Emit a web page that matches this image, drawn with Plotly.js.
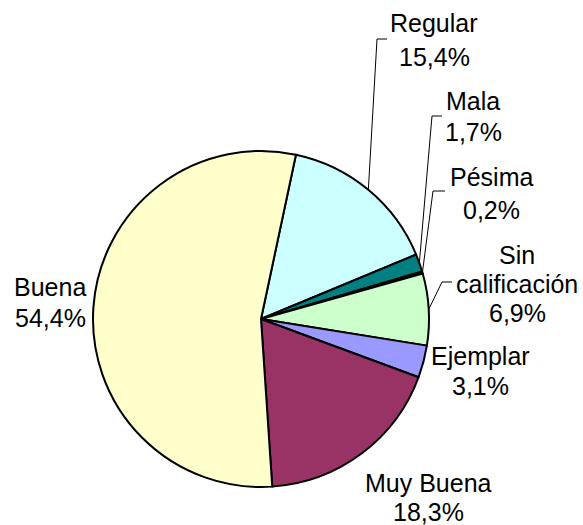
<!DOCTYPE html>
<html>
<head>
<meta charset="utf-8">
<script src="https://cdn.plot.ly/plotly-3.0.1.min.js"></script>
<style>html,body{margin:0;padding:0;background:#fff;}#chart{width:583px;height:525px;}</style>
</head>
<body>
<div id="chart"></div>
<script>
// Data
const categories = ["Regular", "Mala", "Pésima", "Sin calificación", "Ejemplar", "Muy Buena", "Buena"];
const labelLines = [["Regular"], ["Mala"], ["Pésima"], ["Sin", "calificación"], ["Ejemplar"], ["Muy Buena"], ["Buena"]];
const values = [15.4, 1.7, 0.2, 6.9, 3.1, 18.3, 54.4];
const colors = ["#CCFFFF", "#008080", "#660066", "#CCFFCC", "#9999FF", "#993366", "#FFFFCC"];

// Layout / style
const W = 583, H = 525;
const cx = 261, cy = 319, R = 168;
const rotation = 12;
// label x centre, y of each text line (pixels), optional leader-line elbows
const labelPos = [
  {x: 434, ys: [23, 57], elbow: [377, 39], tickEnd: [387, 39]},
  {x: 473, ys: [101, 132], elbow: [432, 116], tickEnd: [442, 116]},
  {x: 491, ys: [177, 210], elbow: [433, 191], tickEnd: [445, 191]},
  {x: 517, ys: [255, 284, 313], elbow: [442, 282], tickEnd: [452, 282]},
  {x: 480, ys: [356, 386]},
  {x: 428, ys: [483, 512]},
  {x: 50, ys: [287, 318]}
];

const px = x => x / W;
const py = y => 1 - y / H;
const fmt = v => v.toFixed(1).replace('.', ',') + '%';

const total = values.reduce((a, b) => a + b, 0);
let cum = 0;
const annotations = [];
const shapes = [];
values.forEach((v, i) => {
  const mid = (rotation + (cum + v / 2) / total * 360) * Math.PI / 180;
  cum += v;
  const ex = cx + R * Math.sin(mid), ey = cy - R * Math.cos(mid);
  const lp = labelPos[i];
  const lines = labelLines[i].concat([fmt(v)]);
  lines.forEach((t, j) => {
    annotations.push({
      x: px(lp.x), y: py(lp.ys[j]), xref: 'paper', yref: 'paper',
      text: t, showarrow: false,
      font: {family: 'Liberation Sans, Arial, sans-serif', size: 25, color: '#000'},
      align: 'center', xanchor: 'center', yanchor: 'middle'
    });
  });
  if (lp.elbow) {
    shapes.push({
      type: 'path', xref: 'paper', yref: 'paper',
      path: `M ${px(ex)} ${py(ey)} L ${px(lp.elbow[0])} ${py(lp.elbow[1])} L ${px(lp.tickEnd[0])} ${py(lp.tickEnd[1])}`,
      line: {color: '#000', width: 1}
    });
  }
});

const trace = {
  type: 'pie',
  labels: categories,
  values: values,
  sort: false,
  direction: 'clockwise',
  rotation: rotation,
  textinfo: 'none',
  hoverinfo: 'label+percent',
  marker: {colors: colors, line: {color: '#000', width: 2}},
  domain: {x: [px(cx - R), px(cx + R)], y: [py(cy + R), py(cy - R)]},
  showlegend: false
};

Plotly.newPlot('chart', [trace], {
  width: W, height: H,
  margin: {l: 0, r: 0, t: 0, b: 0},
  paper_bgcolor: '#fff',
  showlegend: false,
  annotations: annotations,
  shapes: shapes
}, {staticPlot: true});
</script>
</body>
</html>
